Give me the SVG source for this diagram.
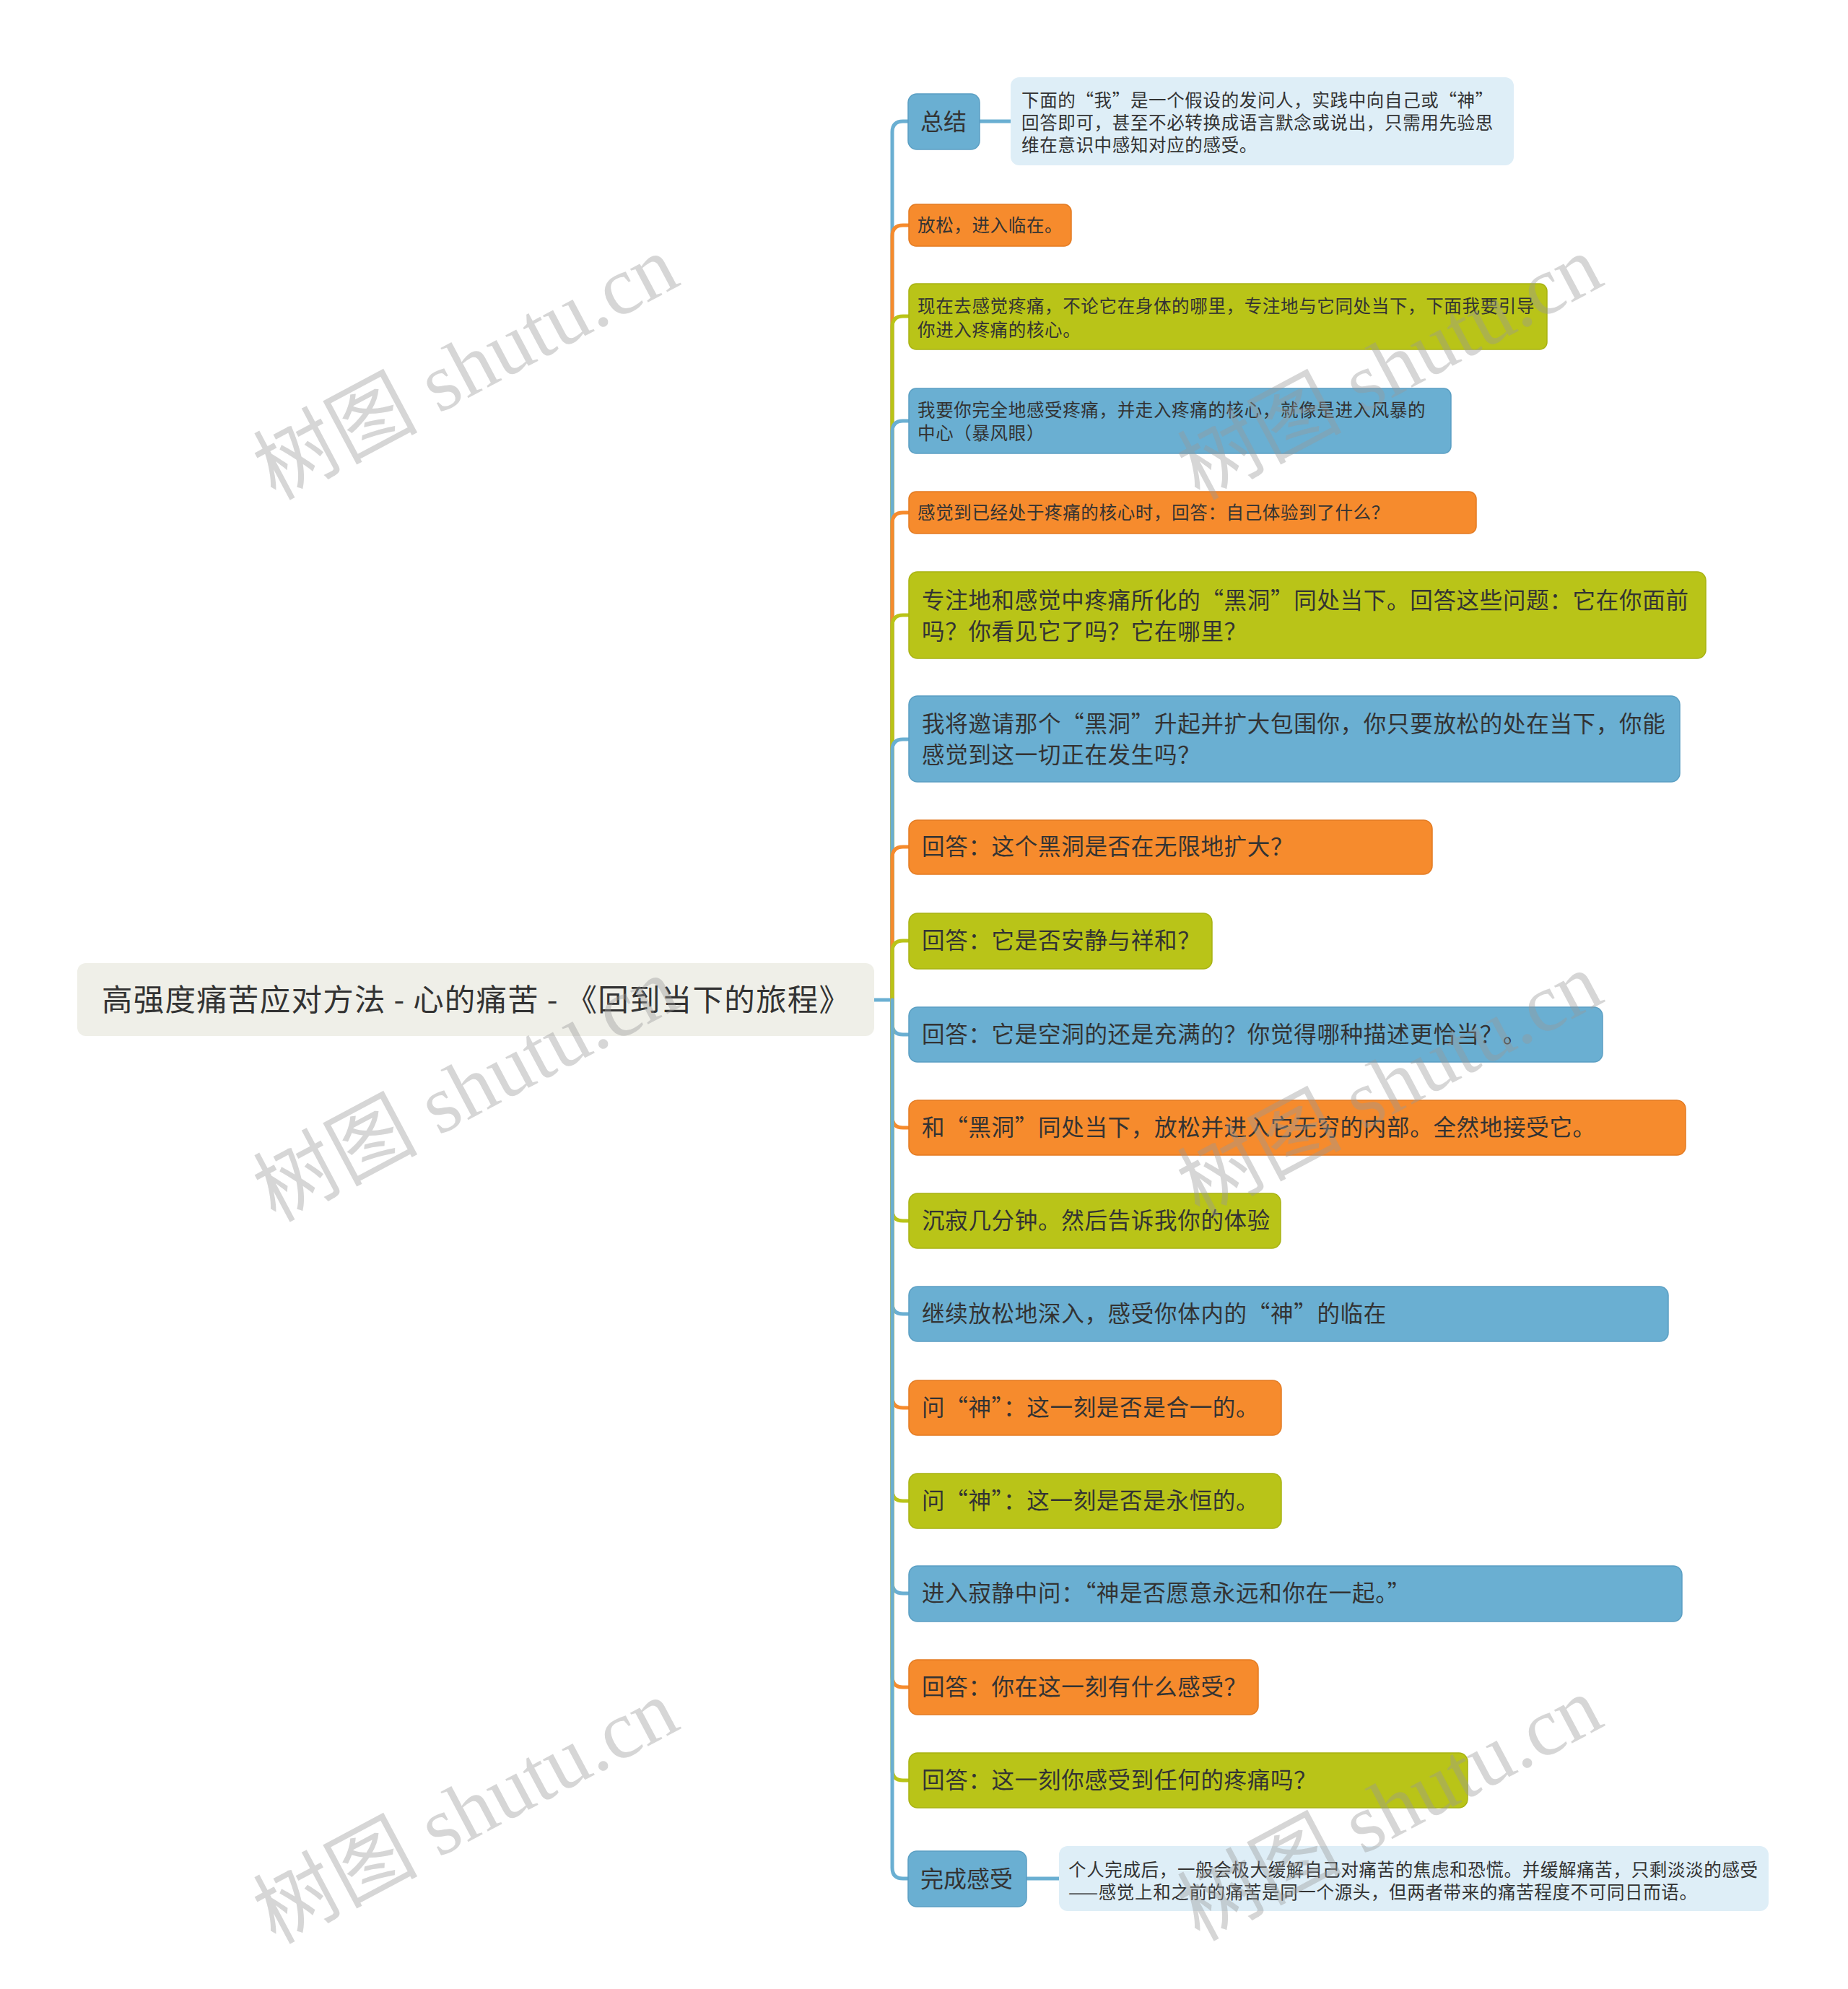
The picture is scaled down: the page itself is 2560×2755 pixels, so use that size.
<svg xmlns="http://www.w3.org/2000/svg" width="2560" height="2755" viewBox="0 0 2560 2755">
<style>
.bg{fill:#ffffff}
.t{font-family:"Noto Sans CJK SC","Noto Sans",sans-serif;fill:#333333}
.s{font-size:24.5px;letter-spacing:0.65px}
.l{font-size:31.5px;letter-spacing:0.7px}
.r{font-size:42.5px}
.blue{fill:#6aafd2;stroke:#5b9fc3;stroke-width:1.5}
.orange{fill:#f68b2d;stroke:#e37b22;stroke-width:1.5}
.green{fill:#b9c418;stroke:#a8b212;stroke-width:1.5}
.root{fill:#efefe8}
.note{fill:#deeef7}
.c{fill:none;stroke-width:5;stroke-linecap:round;stroke-linejoin:round}
.cb{stroke:#6aafd2}
.co{stroke:#f68b2d}
.cg{stroke:#b9c418}
.wm{font-family:"Liberation Serif","Noto Sans CJK SC",serif;font-size:114px;fill:#999999;fill-opacity:0.4;text-anchor:middle}
</style>
<rect class="bg" x="0" y="0" width="2560" height="2755"/>
<g id="connectors">
<path class="c cb" d="M1211 1385H1236"/>
<path class="c cb" d="M1236 1385V183Q1236 168 1251 168H1259"/>
<path class="c co" d="M1236 1385V327Q1236 312 1251 312H1259"/>
<path class="c cg" d="M1236 1385V453Q1236 438 1251 438H1259"/>
<path class="c cb" d="M1236 1385V598Q1236 583 1251 583H1259"/>
<path class="c co" d="M1236 1385V725Q1236 710 1251 710H1259"/>
<path class="c cg" d="M1236 1385V867Q1236 852 1251 852H1259"/>
<path class="c cb" d="M1236 1385V1039Q1236 1024 1251 1024H1259"/>
<path class="c co" d="M1236 1385V1188Q1236 1173 1251 1173H1259"/>
<path class="c cg" d="M1236 1385V1318Q1236 1303 1251 1303H1259"/>
<path class="c cb" d="M1236 1385V1418Q1236 1433 1251 1433H1259"/>
<path class="c co" d="M1236 1385V1547Q1236 1562 1251 1562H1259"/>
<path class="c cg" d="M1236 1385V1676Q1236 1691 1251 1691H1259"/>
<path class="c cb" d="M1236 1385V1805Q1236 1820 1251 1820H1259"/>
<path class="c co" d="M1236 1385V1935Q1236 1950 1251 1950H1259"/>
<path class="c cg" d="M1236 1385V2064Q1236 2079 1251 2079H1259"/>
<path class="c cb" d="M1236 1385V2192Q1236 2207 1251 2207H1259"/>
<path class="c co" d="M1236 1385V2322Q1236 2337 1251 2337H1259"/>
<path class="c cg" d="M1236 1385V2451Q1236 2466 1251 2466H1259"/>
<path class="c cb" d="M1236 1385V2587Q1236 2602 1251 2602H1259"/>
<path class="c cb" d="M1357 168H1400"/>
<path class="c cb" d="M1422 2602H1467"/>
</g>
<g id="root">
<rect class="root" x="107" y="1334" width="1104" height="101" rx="12"/>
<text class="t r" x="141" y="1400" textLength="1036" lengthAdjust="spacing">高强度痛苦应对方法 - 心的痛苦 - 《回到当下的旅程》</text>
</g>
<g id="n1">
<rect class="blue" x="1258" y="130" width="99" height="77" rx="12"/>
<text class="t" style="font-size:32px" x="1275" y="180">总结</text>
</g>
<g id="n1note">
<rect class="note" x="1400" y="107" width="697" height="122" rx="12"/>
<text class="t s" x="1415" y="148">下面的“我”是一个假设的发问人，实践中向自己或“神”</text>
<text class="t s" x="1415" y="179">回答即可，甚至不必转换成语言默念或说出，只需用先验思</text>
<text class="t s" x="1415" y="210">维在意识中感知对应的感受。</text>
</g>
<g id="n2">
<rect class="orange" x="1259" y="283" width="225" height="58" rx="10"/>
<text class="t s" x="1271" y="321">放松，进入临在。</text>
</g>
<g id="n3">
<rect class="green" x="1259" y="393" width="884" height="91" rx="10"/>
<text class="t s" x="1271" y="433">现在去感觉疼痛，不论它在身体的哪里，专注地与它同处当下，下面我要引导</text>
<text class="t s" x="1271" y="466">你进入疼痛的核心。</text>
</g>
<g id="n4">
<rect class="blue" x="1259" y="538" width="751" height="90" rx="10"/>
<text class="t s" x="1271" y="577">我要你完全地感受疼痛，并走入疼痛的核心，就像是进入风暴的</text>
<text class="t s" x="1271" y="609">中心（暴风眼）</text>
</g>
<g id="n5">
<rect class="orange" x="1259" y="681" width="786" height="58" rx="10"/>
<text class="t s" x="1271" y="719">感觉到已经处于疼痛的核心时，回答：自己体验到了什么？</text>
</g>
<g id="n6">
<rect class="green" x="1259" y="792" width="1104" height="120" rx="12"/>
<text class="t l" x="1277" y="843">专注地和感觉中疼痛所化的“黑洞”同处当下。回答这些问题：它在你面前</text>
<text class="t l" x="1277" y="886">吗？你看见它了吗？它在哪里？</text>
</g>
<g id="n7">
<rect class="blue" x="1259" y="964" width="1068" height="119" rx="12"/>
<text class="t l" x="1277" y="1014">我将邀请那个“黑洞”升起并扩大包围你，你只要放松的处在当下，你能</text>
<text class="t l" x="1277" y="1057">感觉到这一切正在发生吗？</text>
</g>
<g id="n8">
<rect class="orange" x="1259" y="1136" width="725" height="75" rx="12"/>
<text class="t l" x="1277" y="1184">回答：这个黑洞是否在无限地扩大？</text>
</g>
<g id="n9">
<rect class="green" x="1259" y="1265" width="420" height="77" rx="12"/>
<text class="t l" x="1277" y="1314">回答：它是否安静与祥和？</text>
</g>
<g id="n10">
<rect class="blue" x="1259" y="1395" width="961" height="76" rx="12"/>
<text class="t l" x="1277" y="1444">回答：它是空洞的还是充满的？你觉得哪种描述更恰当？。</text>
</g>
<g id="n11">
<rect class="orange" x="1259" y="1524" width="1076" height="76" rx="12"/>
<text class="t l" x="1277" y="1573">和“黑洞”同处当下，放松并进入它无穷的内部。全然地接受它。</text>
</g>
<g id="n12">
<rect class="green" x="1259" y="1653" width="515" height="76" rx="12"/>
<text class="t l" x="1277" y="1702">沉寂几分钟。然后告诉我你的体验</text>
</g>
<g id="n13">
<rect class="blue" x="1259" y="1782" width="1052" height="76" rx="12"/>
<text class="t l" x="1277" y="1831">继续放松地深入，感受你体内的“神”的临在</text>
</g>
<g id="n14">
<rect class="orange" x="1259" y="1912" width="516" height="76" rx="12"/>
<text class="t l" x="1277" y="1961">问“神”：这一刻是否是合一的。</text>
</g>
<g id="n15">
<rect class="green" x="1259" y="2041" width="516" height="76" rx="12"/>
<text class="t l" x="1277" y="2090">问“神”：这一刻是否是永恒的。</text>
</g>
<g id="n16">
<rect class="blue" x="1259" y="2169" width="1071" height="77" rx="12"/>
<text class="t l" x="1277" y="2218">进入寂静中问：“神是否愿意永远和你在一起。”</text>
</g>
<g id="n17">
<rect class="orange" x="1259" y="2299" width="484" height="76" rx="12"/>
<text class="t l" x="1277" y="2348">回答：你在这一刻有什么感受？</text>
</g>
<g id="n18">
<rect class="green" x="1259" y="2428" width="774" height="76" rx="12"/>
<text class="t l" x="1277" y="2477">回答：这一刻你感受到任何的疼痛吗？</text>
</g>
<g id="n19">
<rect class="blue" x="1258" y="2564" width="164" height="77" rx="12"/>
<text class="t" style="font-size:32px" x="1275" y="2614">完成感受</text>
</g>
<g id="n19note">
<rect class="note" x="1467" y="2557" width="983" height="90" rx="12"/>
<text class="t s" x="1480" y="2599">个人完成后，一般会极大缓解自己对痛苦的焦虑和恐慌。并缓解痛苦，只剩淡淡的感受</text>
<text class="t s" x="1480" y="2630">——感觉上和之前的痛苦是同一个源头，但两者带来的痛苦程度不可同日而语。</text>
</g>
<g id="watermarks">
<text class="wm" transform="translate(645,509) rotate(-28)" x="0" y="39">树图 shutu.cn</text>
<text class="wm" transform="translate(645,1509) rotate(-28)" x="0" y="39">树图 shutu.cn</text>
<text class="wm" transform="translate(645,2509) rotate(-28)" x="0" y="39">树图 shutu.cn</text>
<text class="wm" transform="translate(1925,509) rotate(-28)" x="0" y="39">树图 shutu.cn</text>
<text class="wm" transform="translate(1925,1502) rotate(-28)" x="0" y="39">树图 shutu.cn</text>
<text class="wm" transform="translate(1925,2505) rotate(-28)" x="0" y="39">树图 shutu.cn</text>
</g>
</svg>
